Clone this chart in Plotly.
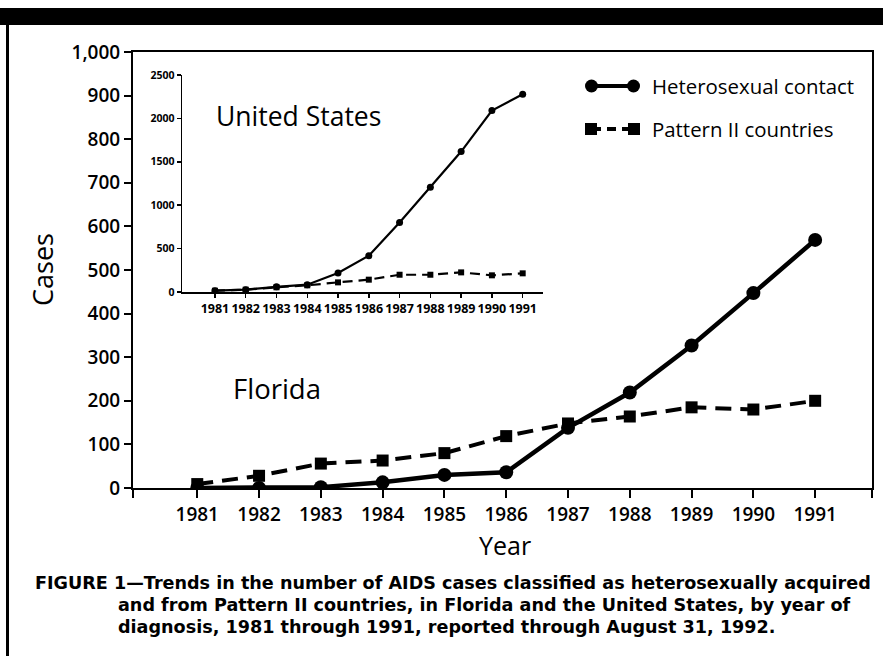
import plotly.graph_objects as go

years = [1981, 1982, 1983, 1984, 1985, 1986, 1987, 1988, 1989, 1990, 1991]
fl_hetero = [0, 0, 2, 13, 30, 36, 138, 219, 327, 447, 569]
fl_pattern2 = [9, 28, 56, 63, 80, 119, 148, 164, 185, 180, 200]
us_hetero = [15, 27, 60, 84, 219, 418, 801, 1208, 1618, 2090, 2278]
us_pattern2 = [15, 27, 54, 77, 111, 142, 199, 199, 226, 192, 215]
main_yticks = [0, 100, 200, 300, 400, 500, 600, 700, 800, 900, 1000]
inset_yticks = [0, 500, 1000, 1500, 2000, 2500]
legend_labels = ["Heterosexual contact", "Pattern II countries"]

W, H = 883, 656
def px(x):
    return x / W
def py(y):
    return 1 - y / H

TICKFONT = dict(family="Open Sans", size=19, color="black", weight=600)
INSET_X_FONT = dict(family="Open Sans", size=12.5, color="black", weight=700)
INSET_Y_FONT = dict(family="Open Sans", size=10.5, color="black", weight=700)

fig = go.Figure()
# main (Florida)
fig.add_trace(go.Scatter(x=years, y=fl_pattern2, mode="lines+markers",
                         line=dict(color="black", width=4, dash="16px,9px"),
                         marker=dict(symbol="square", size=12, color="black"),
                         xaxis="x", yaxis="y", showlegend=False))
fig.add_trace(go.Scatter(x=years, y=fl_hetero, mode="lines+markers",
                         line=dict(color="black", width=4.5),
                         marker=dict(symbol="circle", size=14, color="black"),
                         xaxis="x", yaxis="y", showlegend=False))
# inset (United States)
fig.add_trace(go.Scatter(x=years, y=us_pattern2, mode="lines+markers",
                         line=dict(color="black", width=2.2, dash="10px,6px"),
                         marker=dict(symbol="square", size=6, color="black"),
                         xaxis="x2", yaxis="y2", showlegend=False))
fig.add_trace(go.Scatter(x=years, y=us_hetero, mode="lines+markers",
                         line=dict(color="black", width=2.2),
                         marker=dict(symbol="circle", size=7, color="black"),
                         xaxis="x2", yaxis="y2", showlegend=False))

x0, x1 = 1979.96, 1991.92
fig.update_layout(
    template="none",
    width=W, height=H,
    autosize=False,
    margin=dict(l=0, r=0, t=0, b=0, pad=0, autoexpand=False),
    paper_bgcolor="white", plot_bgcolor="rgba(0,0,0,0)",
    xaxis=dict(domain=[px(133), px(872)], range=[x0, x1], automargin=False,
               tickvals=[x0] + years + [x1], ticktext=[""] + [str(y) for y in years] + [""],
               ticks="outside", ticklen=8, tickwidth=2, tickcolor="black",
               showline=True, linecolor="black", linewidth=2, mirror=True,
               showgrid=False, zeroline=False, tickfont=TICKFONT),
    yaxis=dict(domain=[py(488), py(52)], range=[0, 1000], automargin=False,
               tickvals=main_yticks, tickformat=",",
               ticks="outside", ticklen=7, tickwidth=2, tickcolor="black",
               showline=True, linecolor="black", linewidth=2, mirror=True,
               showgrid=False, zeroline=False, tickfont=TICKFONT),
    xaxis2=dict(domain=[px(182), px(543)], range=[1979.93, 1991.66], anchor="y2", automargin=False,
                tickvals=years, ticks="outside", ticklen=4, tickwidth=1.5, tickcolor="black",
                showline=True, linecolor="black", linewidth=1.5,
                showgrid=False, zeroline=False, tickfont=INSET_X_FONT),
    yaxis2=dict(domain=[py(292), py(75)], range=[0, 2500], anchor="x2", automargin=False,
                tickvals=inset_yticks, ticks="outside", ticklen=4, tickwidth=1.5, tickcolor="black",
                showline=True, linecolor="black", linewidth=1.5,
                showgrid=False, zeroline=False, tickfont=INSET_Y_FONT),
)

shapes = [
    dict(type="rect", xref="paper", yref="paper", x0=0, x1=1, y0=py(25), y1=py(8),
         fillcolor="black", line=dict(width=0)),
    dict(type="line", xref="paper", yref="paper", x0=px(7.5), x1=px(7.5), y0=0, y1=py(25),
         line=dict(color="black", width=3)),
    # legend keys
    dict(type="line", xref="paper", yref="paper", x0=px(592), x1=px(630), y0=py(86), y1=py(86),
         line=dict(color="black", width=4)),
    dict(type="circle", xref="paper", yref="paper", x0=px(585), x1=px(598), y0=py(92.5), y1=py(79.5),
         fillcolor="black", line=dict(width=0)),
    dict(type="circle", xref="paper", yref="paper", x0=px(627), x1=px(640), y0=py(92.5), y1=py(79.5),
         fillcolor="black", line=dict(width=0)),
    dict(type="line", xref="paper", yref="paper", x0=px(592), x1=px(630), y0=py(129), y1=py(129),
         line=dict(color="black", width=4, dash="9px,6px")),
    dict(type="rect", xref="paper", yref="paper", x0=px(585), x1=px(597), y0=py(135), y1=py(123),
         fillcolor="black", line=dict(width=0)),
    dict(type="rect", xref="paper", yref="paper", x0=px(628), x1=px(640), y0=py(135), y1=py(123),
         fillcolor="black", line=dict(width=0)),
]
fig.update_layout(shapes=shapes)

LBL = dict(family="Open Sans", size=20.4, color="black", weight=500)
ann = [
    dict(x=px(650), y=py(86), text=legend_labels[0], font=LBL, xanchor="left", yanchor="middle"),
    dict(x=px(650), y=py(129), text=legend_labels[1], font=LBL, xanchor="left", yanchor="middle"),
    dict(x=px(298), y=py(116), text="United States", font=dict(family="Open Sans", size=26.5, color="black"),
         xanchor="center", yanchor="middle"),
    dict(x=px(277), y=py(388), text="Florida", font=dict(family="Open Sans", size=27.5, color="black"),
         xanchor="center", yanchor="middle"),
    dict(x=px(42), y=py(270), text="Cases", textangle=-90, font=dict(family="Open Sans", size=27, color="black"),
         xanchor="center", yanchor="middle"),
    dict(x=px(505), y=py(545), text="Year", font=dict(family="Open Sans", size=25, color="black"),
         xanchor="center", yanchor="middle"),
]
CAP = dict(family="DejaVu Sans", size=17.6, color="black", weight=700)
cap_lines = [
    (33, 583, "FIGURE 1\u2014Trends in the number of AIDS cases classified as heterosexually acquired"),
    (116, 605, "and from Pattern II countries, in Florida and the United States, by year of"),
    (116, 627, "diagnosis, 1981 through 1991, reported through August 31, 1992."),
]
for xx, yy, t in cap_lines:
    ann.append(dict(x=px(xx), y=py(yy), text=t, font=CAP, xanchor="left", yanchor="middle"))
for a in ann:
    a.update(xref="paper", yref="paper", showarrow=False)
fig.update_layout(annotations=ann)

fig.write_html("out.html",
               config={"displayModeBar": False, "staticPlot": True},
               post_script="document.body.style.margin='0px';document.body.style.overflow='hidden';")
